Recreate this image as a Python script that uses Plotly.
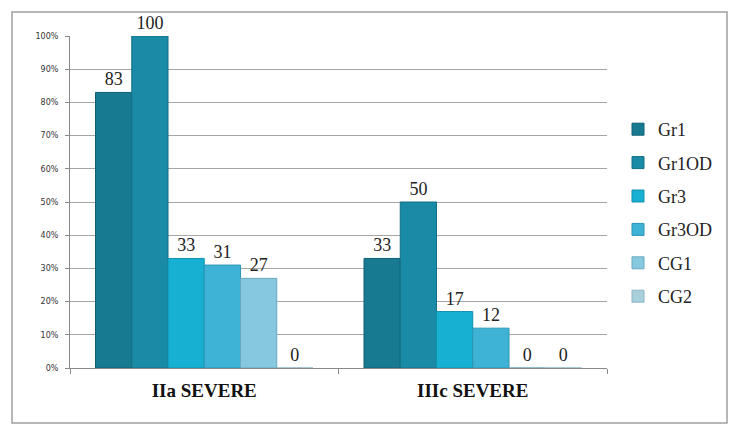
import plotly.graph_objects as go

categories = ["IIa SEVERE", "IIIc SEVERE"]
series_names = ["Gr1", "Gr1OD", "Gr3", "Gr3OD", "CG1", "CG2"]
values = {
    "Gr1": [83, 33],
    "Gr1OD": [100, 50],
    "Gr3": [33, 17],
    "Gr3OD": [31, 12],
    "CG1": [27, 0],
    "CG2": [0, 0],
}
colors = ["#187a91", "#1a8ba6", "#18b0d2", "#3fb3d6", "#86c8de", "#a8cfdc"]
line_colors = ["#0f5f72", "#136f86", "#1090ad", "#2b95b5", "#6aa9bf", "#8fb4c2"]
y_ticks = [i / 10 for i in range(11)]
y_tick_labels = [f"{i * 10}%" for i in range(11)]

fig = go.Figure()
for name, c, lc in zip(series_names, colors, line_colors):
    vals = values[name]
    fig.add_trace(go.Bar(
        name=name,
        x=categories,
        y=[v / 100 for v in vals],
        text=[str(v) for v in vals],
        textposition="outside",
        textfont=dict(family="Liberation Serif", size=18, color="#222"),
        cliponaxis=False,
        marker=dict(color=c, line=dict(color=lc, width=1)),
        legendgroup=name,
        hoverinfo="skip",
    ))

W0, W1 = 70, 607
H0, H1 = 36, 368
pw, ph = W1 - W0, H1 - H0

fig.update_layout(
    width=740, height=437,
    margin=dict(l=W0, r=740 - W1, t=H0, b=437 - H1),
    paper_bgcolor="white", plot_bgcolor="white",
    barmode="group", bargap=0.19, bargroupgap=0,
    showlegend=True,
    legend=dict(
        x=(618 - W0) / pw, y=(H1 - 111) / ph, xanchor="left", yanchor="top",
        font=dict(family="Liberation Serif", size=18, color="#222"),
        traceorder="grouped", tracegroupgap=7, itemwidth=30,
        bgcolor="rgba(0,0,0,0)",
    ),
    xaxis=dict(
        type="category", showgrid=False, showline=True, linecolor="#8a8a8a",
        ticks="outside", tickson="boundaries", ticklen=5, tickcolor="#8a8a8a",
        tickfont=dict(family="Liberation Serif", size=19, color="#111"),
        range=[-0.5, 1.5], ticklabelstandoff=5,
        tickvals=categories, ticktext=[f"<b>{c}</b>" for c in categories],
    ),
    yaxis=dict(
        range=[0, 1], tickvals=y_ticks, ticktext=y_tick_labels,
        showgrid=True, gridcolor="#a6a6a6", gridwidth=1,
        showline=True, linecolor="#8a8a8a", ticks="outside", ticklen=4,
        tickcolor="#8a8a8a", zeroline=False, ticklabelstandoff=5,
        tickfont=dict(family="DejaVu Sans", size=8, color="#333"),
    ),
    shapes=[dict(
        type="rect", xref="paper", yref="paper",
        x0=(12 - W0) / pw, x1=(727 - W0) / pw,
        y0=(H1 - 423) / ph, y1=(H1 - 12) / ph,
        line=dict(color="#a0a0a0", width=1.5), fillcolor="rgba(0,0,0,0)",
        layer="below",
    )],
)

fig.write_html("out.html", config={"displayModeBar": False},
               post_script="document.body.style.margin='0';")
